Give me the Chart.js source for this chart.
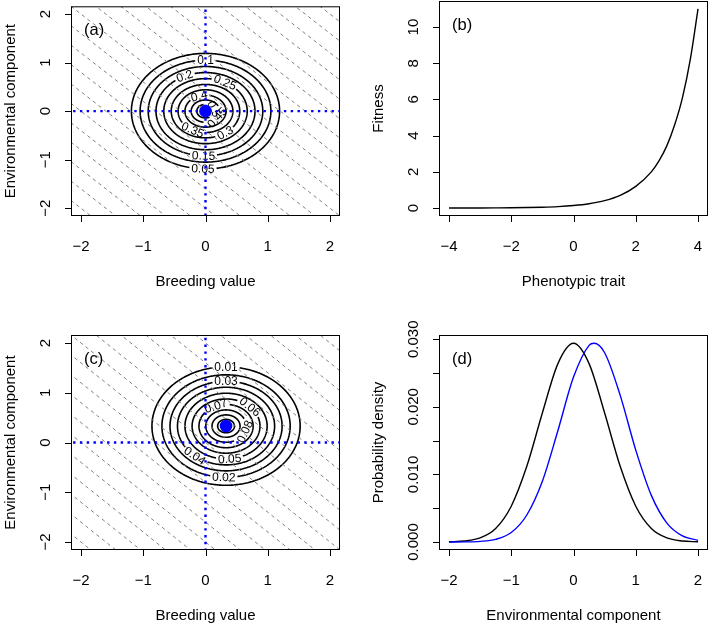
<!DOCTYPE html>
<html>
<head>
<meta charset="utf-8">
<script src="https://cdn.jsdelivr.net/npm/chart.js@4.4.1/dist/chart.umd.min.js"></script>
<style>
  html, body { margin: 0; padding: 0; background: #fff; }
  #wrap { position: relative; width: 709px; height: 624px; }
  #wrap canvas { position: absolute; left: 0; top: 0; }
</style>
</head>
<body>
<div id="wrap">
  <canvas id="panelA" width="709" height="624"></canvas>
  <canvas id="panelB" width="709" height="624"></canvas>
  <canvas id="panelC" width="709" height="624"></canvas>
  <canvas id="panelD" width="709" height="624"></canvas>
</div>
<script>
// ---- data ----

// (a) contours of the joint density before selection
const contourLevelsA = ['0.05', '0.1', '0.15', '0.2', '0.25', '0.3', '0.35', '0.4', '0.45', '0.5']
const contourRadiiA = [1.19, 1.05, 0.92, 0.795, 0.67, 0.55, 0.44, 0.33, 0.23, 0.14]
const labelAnglesA = [-92, 90, -92, 115, 62, -55, -118, 108, -35, 20]
const centerA = [0, 0]

// (c) contours after selection
const contourLevelsC = ['0.01', '0.02', '0.03', '0.04', '0.05', '0.06', '0.07', '0.08', '0.09', '0.1']
const contourRadiiC = [1.19, 1.03, 0.9, 0.78, 0.66, 0.545, 0.435, 0.325, 0.225, 0.135]
const labelAnglesC = [90, -92, 90, -130, -85, 45, 112, -20, null, null]
const centerC = [0.33, 0.33]

// grey dashed lines of equal phenotype (breeding value + environment)
const isoPhenotype = [-4, -3.6, -3.2, -2.8, -2.4, -2, -1.6, -1.2, -0.8, -0.4, 0,
  0.4, 0.8, 1.2, 1.6, 2, 2.4, 2.8, 3.2, 3.6, 4]

// (b) fitness function
const traitX = [-4, -3.5, -3, -2.5, -2, -1.5, -1, -0.5, 0, 0.5, 1, 1.5, 2, 2.5, 2.75, 3, 3.25, 3.5, 3.75, 4]
const fitnessY = [0.002, 0.003, 0.005, 0.009, 0.015, 0.027, 0.046, 0.08, 0.14, 0.24, 0.41, 0.7, 1.2, 2.0, 2.62, 3.45, 4.6, 6.1, 8.2, 11.0]

// (d) environmental component densities
const envX = [-2, -1.75, -1.5, -1.25, -1, -0.75, -0.5, -0.25, 0, 0.25, 0.5, 0.75, 1, 1.25, 1.5, 1.75, 2]
const densityBefore = [0.00003, 0.00015, 0.0006, 0.002, 0.0053, 0.0112, 0.0191, 0.0264, 0.0294,
  0.0264, 0.0191, 0.0112, 0.0053, 0.002, 0.0006, 0.00015, 0.00003]
const envXAfter = [-2, -1.75, -1.5, -1.25, -1, -0.75, -0.5, -0.25, 0, 0.25, 0.33, 0.5, 0.75, 1, 1.25, 1.5, 1.75, 2]
const densityAfter = [0.0, 0.00002, 0.0001, 0.0004, 0.0014, 0.004, 0.009, 0.0165, 0.0244, 0.0291, 0.0294,
  0.028, 0.0217, 0.0136, 0.0069, 0.0028, 0.0009, 0.00025]

// tick positions and labels
const breedTicks = [-2, -1, 0, 1, 2]
const breedTickLabels = ['−2', '−1', '0', '1', '2']
const traitTicks = [-4, -2, 0, 2, 4]
const traitTickLabels = ['−4', '−2', '0', '2', '4']
const fitnessTicks = [0, 2, 4, 6, 8, 10]
const fitnessTickLabels = ['0', '2', '4', '6', '8', '10']
const densityTicks = [0, 0.005, 0.01, 0.015, 0.02, 0.025, 0.03]
const densityTickLabels = ['0.000', '', '0.010', '', '0.020', '', '0.030']

// ---- layout ----
const W = 709, H = 624
const FAMILY = '"Liberation Sans", Arial, Helvetica, sans-serif'
const AXIS_FONT = '15px ' + FAMILY
const TAG_FONT = '16.5px ' + FAMILY
const LABEL_FONT = '12px ' + FAMILY

// plot boxes: left, top, right, bottom
const boxA = [71, 1, 340, 216]
const boxB = [439, 1, 708, 216]
const boxC = [71, 335, 340, 550]
const boxD = [439, 335, 708, 550]

// pixels per unit on the contour panels (range -2.16..2.16)
const SX = (boxA[2] - boxA[0]) / 4.32
const SY = (boxA[3] - boxA[1]) / 4.32

const measureCtx = document.createElement('canvas').getContext('2d')
measureCtx.font = LABEL_FONT

const lineBase = { pointRadius: 0, pointHoverRadius: 0, pointHitRadius: 0, fill: false, clip: 0 }

function ringPoints(center, r, deg, text) {
  let gap = 0
  let start = 0
  if (deg != null) {
    const t = deg * Math.PI / 180
    const perRad = r * Math.hypot(SX * Math.sin(t), SY * Math.cos(t))
    gap = (measureCtx.measureText(text).width / 2 + 2) / perRad
    start = t + gap
  }
  const span = 2 * Math.PI - 2 * gap
  const pts = []
  const n = 180
  for (let i = 0; i <= n; i++) {
    const t = start + span * i / n
    pts.push({ x: center[0] + r * Math.cos(t), y: center[1] + r * Math.sin(t) })
  }
  return pts
}

function contourDatasets(center, radii, levels, angles) {
  const dot = {
    data: [{ x: center[0], y: center[1] }],
    showLine: false,
    pointRadius: 6.3,
    pointHoverRadius: 0,
    pointBackgroundColor: '#0000ff',
    pointBorderColor: '#0000ff',
    pointBorderWidth: 0,
    clip: false
  }
  const blue = {
    ...lineBase,
    borderColor: '#0000ff',
    borderWidth: 2.4,
    borderDash: [2.4, 4.4]
  }
  const hLine = { ...blue, data: [{ x: -3, y: 0 }, { x: 3, y: 0 }] }
  const vLine = { ...blue, data: [{ x: 0, y: -3 }, { x: 0, y: 3 }] }
  const iso = isoPhenotype.map(c => ({
    ...lineBase,
    data: [{ x: -5, y: c + 5 }, { x: 5, y: c - 5 }],
    borderColor: '#808080',
    borderWidth: 1,
    borderDash: [3.5, 3.5]
  }))
  const rings = radii.map((r, i) => ({
    ...lineBase,
    data: ringPoints(center, r, angles[i], levels[i]),
    borderColor: '#000',
    borderWidth: 1.6,
    tension: 0.0001
  }))
  // labels drawn right after the last ring is painted (rings[0] is painted last)
  rings[0].contourLabels = radii.map((r, i) => angles[i] == null ? null : {
    text: levels[i],
    deg: angles[i],
    r: r,
    cx: center[0],
    cy: center[1]
  }).filter(Boolean)
  return [dot, hLine, vLine, ...iso, ...rings]
}

function drawContourLabels(chart, labels) {
  const ctx = chart.ctx
  const xs = chart.scales.x, ys = chart.scales.y
  const sx = xs.getPixelForValue(1) - xs.getPixelForValue(0)
  const sy = ys.getPixelForValue(1) - ys.getPixelForValue(0)
  ctx.save()
  ctx.font = LABEL_FONT
  ctx.fillStyle = '#000'
  ctx.textAlign = 'center'
  ctx.textBaseline = 'middle'
  labels.forEach(l => {
    const t = l.deg * Math.PI / 180
    const px = xs.getPixelForValue(l.cx + l.r * Math.cos(t))
    const py = ys.getPixelForValue(l.cy + l.r * Math.sin(t))
    let rot = Math.atan2(l.r * Math.cos(t) * sy, -l.r * Math.sin(t) * sx)
    if (rot > Math.PI / 2) rot -= Math.PI
    if (rot < -Math.PI / 2) rot += Math.PI
    ctx.save()
    ctx.translate(px, py)
    ctx.rotate(rot)
    ctx.fillText(l.text, 0, 0.5)
    ctx.restore()
  })
  ctx.restore()
}

// R style box, ticks and labels
const rAxes = {
  id: 'rAxes',
  afterDatasetDraw(chart, args) {
    const ds = chart.data.datasets[args.index]
    if (ds.contourLabels) drawContourLabels(chart, ds.contourLabels)
  },
  afterDraw(chart, args, opts) {
    const ctx = chart.ctx, a = chart.chartArea
    const xs = chart.scales.x, ys = chart.scales.y
    ctx.save()
    ctx.strokeStyle = '#000'
    ctx.lineWidth = 1
    ctx.strokeRect(a.left + 0.5, a.top + 0.5, a.right - a.left - 1, a.bottom - a.top - 1)
    ctx.beginPath()
    opts.xTicks.forEach(v => {
      const px = Math.round(xs.getPixelForValue(v)) + 0.5
      ctx.moveTo(px, a.bottom)
      ctx.lineTo(px, a.bottom + 6)
    })
    opts.yTicks.forEach(v => {
      const py = Math.round(ys.getPixelForValue(v)) + 0.5
      ctx.moveTo(a.left, py)
      ctx.lineTo(a.left - 6, py)
    })
    ctx.stroke()

    ctx.fillStyle = '#000'
    ctx.font = AXIS_FONT
    ctx.textAlign = 'center'
    ctx.textBaseline = 'alphabetic'
    opts.xTicks.forEach((v, i) => {
      ctx.fillText(opts.xLabels[i], xs.getPixelForValue(v), a.bottom + 34.5)
    })
    opts.yTicks.forEach((v, i) => {
      if (!opts.yLabels[i]) return
      ctx.save()
      ctx.translate(a.left - 21, ys.getPixelForValue(v))
      ctx.rotate(-Math.PI / 2)
      ctx.fillText(opts.yLabels[i], 0, 0)
      ctx.restore()
    })
    ctx.fillText(opts.xTitle, (a.left + a.right) / 2, a.bottom + 69.5)
    ctx.save()
    ctx.translate(a.left - 56.5, (a.top + a.bottom) / 2)
    ctx.rotate(-Math.PI / 2)
    ctx.fillText(opts.yTitle, 0, 0)
    ctx.restore()

    ctx.font = TAG_FONT
    ctx.textAlign = 'left'
    ctx.fillText(opts.tag, a.left + 13, a.top + 28.5)
    ctx.restore()
  }
}

function makeChart(id, box, range, datasets, axes) {
  return new Chart(document.getElementById(id), {
    type: 'line',
    data: { datasets },
    options: {
      responsive: false,
      animation: false,
      devicePixelRatio: 1,
      events: [],
      layout: { padding: { left: box[0], top: box[1], right: W - box[2], bottom: H - box[3] } },
      scales: {
        x: { type: 'linear', display: false, min: range[0], max: range[1] },
        y: { type: 'linear', display: false, min: range[2], max: range[3] }
      },
      plugins: { legend: { display: false }, tooltip: { enabled: false }, rAxes: axes }
    },
    plugins: [rAxes]
  })
}

makeChart('panelA', boxA, [-2.16, 2.16, -2.16, 2.16],
  contourDatasets(centerA, contourRadiiA, contourLevelsA, labelAnglesA), {
    xTicks: breedTicks, xLabels: breedTickLabels,
    yTicks: breedTicks, yLabels: breedTickLabels,
    xTitle: 'Breeding value', yTitle: 'Environmental component', tag: '(a)'
  })

makeChart('panelB', boxB, [-4.32, 4.32, -0.44, 11.44], [{
  ...lineBase,
  data: traitX.map((x, i) => ({ x, y: fitnessY[i] })),
  borderColor: '#000',
  borderWidth: 1.4,
  cubicInterpolationMode: 'monotone'
}], {
  xTicks: traitTicks, xLabels: traitTickLabels,
  yTicks: fitnessTicks, yLabels: fitnessTickLabels,
  xTitle: 'Phenotypic trait', yTitle: 'Fitness', tag: '(b)'
})

makeChart('panelC', boxC, [-2.16, 2.16, -2.16, 2.16],
  contourDatasets(centerC, contourRadiiC, contourLevelsC, labelAnglesC), {
    xTicks: breedTicks, xLabels: breedTickLabels,
    yTicks: breedTicks, yLabels: breedTickLabels,
    xTitle: 'Breeding value', yTitle: 'Environmental component', tag: '(c)'
  })

makeChart('panelD', boxD, [-2.16, 2.16, -0.00118, 0.03063], [
  {
    ...lineBase,
    data: envXAfter.map((x, i) => ({ x, y: densityAfter[i] })),
    borderColor: '#0000ff',
    borderWidth: 1.4,
    cubicInterpolationMode: 'monotone'
  },
  {
    ...lineBase,
    data: envX.map((x, i) => ({ x, y: densityBefore[i] })),
    borderColor: '#000',
    borderWidth: 1.4,
    cubicInterpolationMode: 'monotone'
  }
], {
  xTicks: breedTicks, xLabels: breedTickLabels,
  yTicks: densityTicks, yLabels: densityTickLabels,
  xTitle: 'Environmental component', yTitle: 'Probability density', tag: '(d)'
})
</script>
</body>
</html>
